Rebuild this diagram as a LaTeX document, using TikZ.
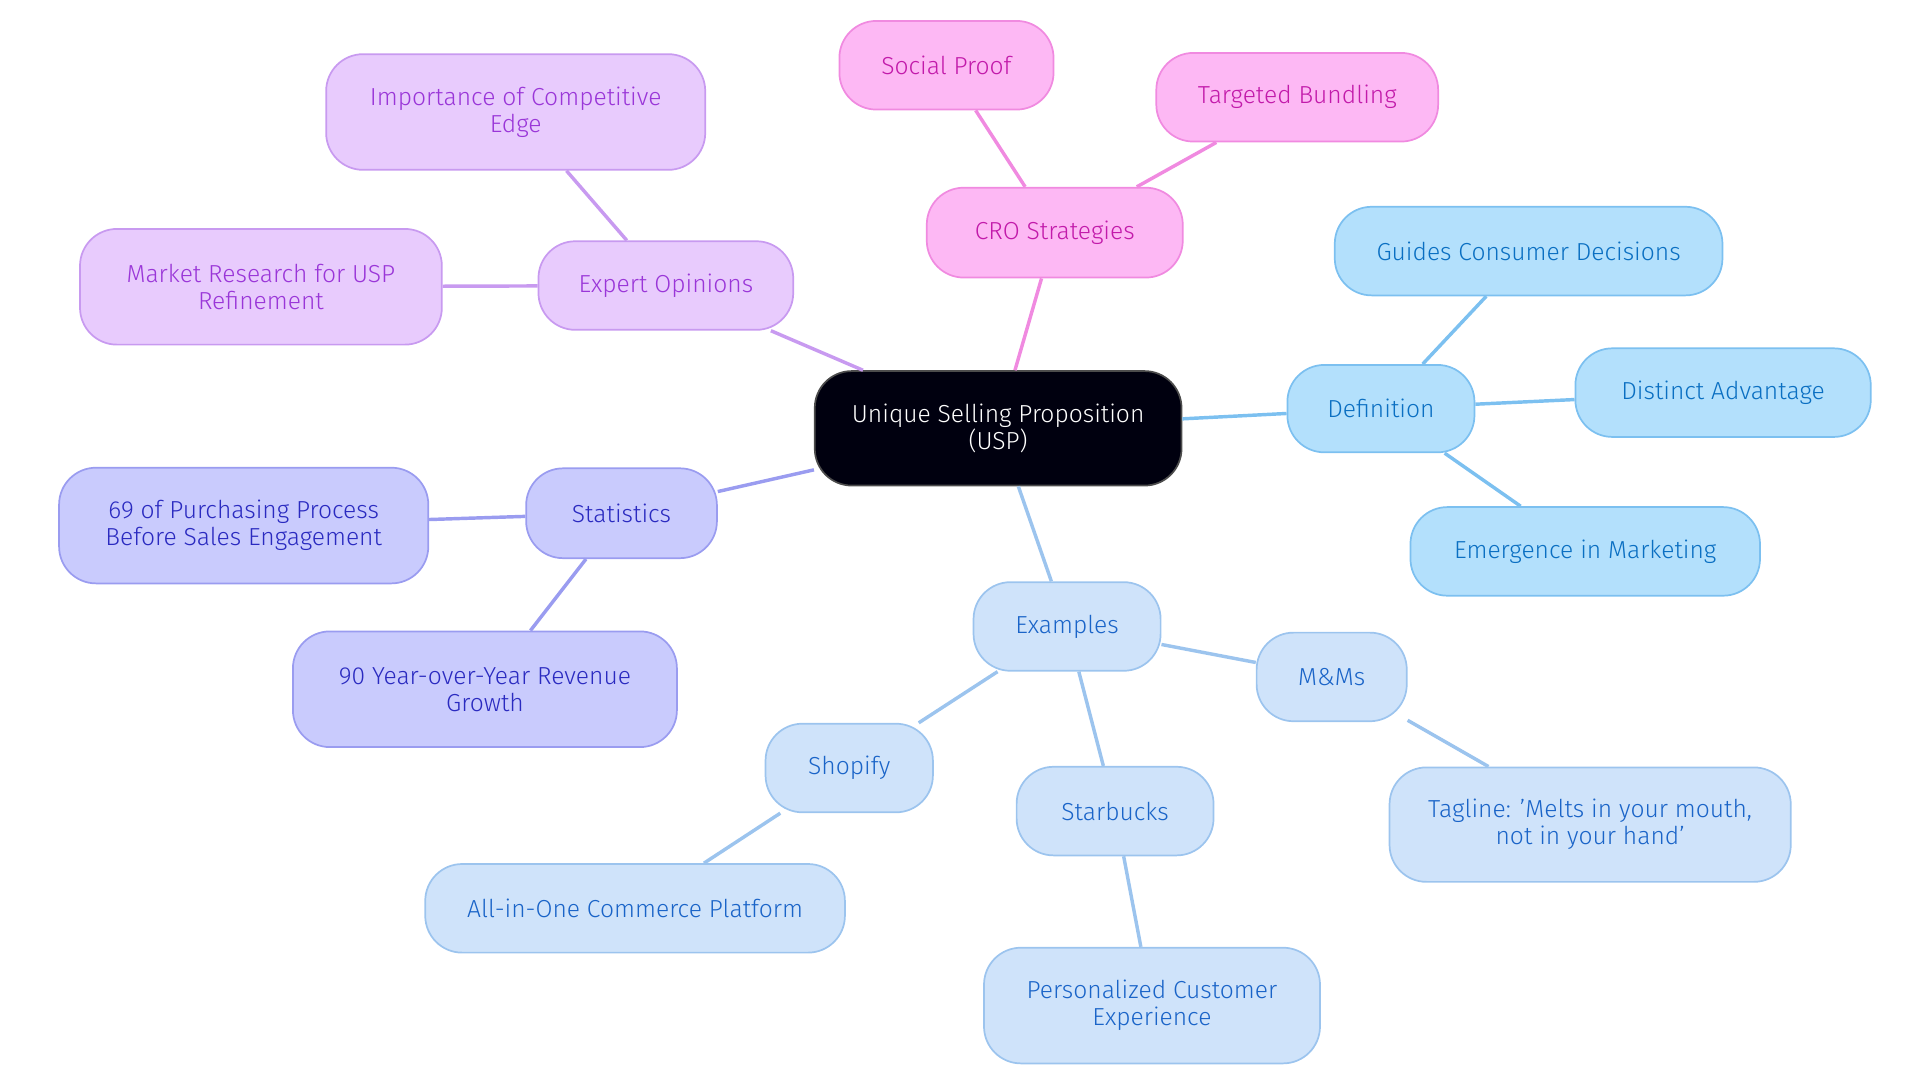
\documentclass[tikz,border=0pt]{standalone}
\usepackage{fontspec}
\setmainfont{Fira Sans}[UprightFont=* Light]
\begin{document}
\begin{tikzpicture}[x=0.5pt,y=-0.5pt,
  nd/.style={draw, line width=0.7pt, rounded corners=15pt, align=center, font=\fontsize{10}{11}\selectfont, inner sep=0pt},
  def/.style={nd, fill=defF, draw=defD, text=defT},
  ex/.style={nd, fill=exF, draw=exD, text=exT},
  st/.style={nd, fill=stF, draw=stD, text=stT},
  op/.style={nd, fill=opF, draw=opD, text=opT},
  cr/.style={nd, fill=crF, draw=crD, text=crT},
  ln/.style={line width=1.4pt}]
\definecolor{defF}{HTML}{B3E0FC}\definecolor{defD}{HTML}{7CC0F0}\definecolor{defT}{HTML}{0A6FC2}
\definecolor{exF}{HTML}{CFE3FA}\definecolor{exD}{HTML}{9CC4EE}\definecolor{exT}{HTML}{1A64C8}
\definecolor{stF}{HTML}{C9CBFD}\definecolor{stD}{HTML}{9A9CF0}\definecolor{stT}{HTML}{2A2AC0}
\definecolor{opF}{HTML}{E8CBFD}\definecolor{opD}{HTML}{C89AF0}\definecolor{opT}{HTML}{9A36D8}
\definecolor{crF}{HTML}{FDB8F4}\definecolor{crD}{HTML}{F08AE0}\definecolor{crT}{HTML}{C21AAA}
\useasboundingbox (0,0) rectangle (1560,880);
\node[nd, fill=black!90!blue!60!black, draw=black!70, text=white, minimum width=149pt, minimum height=46.5pt] (usp) at (811,348) {Unique Selling Proposition\\(USP)};
\node[def, minimum width=76pt, minimum height=35.5pt] (def) at (1122,332) {Definition};
\node[def, minimum width=157.5pt, minimum height=36pt] (gcd) at (1242,204) {Guides Consumer Decisions};
\node[def, minimum width=120pt, minimum height=36pt] (da) at (1400,319) {Distinct Advantage};
\node[def, minimum width=142pt, minimum height=36pt] (em) at (1288,448) {Emergence in Marketing};
\node[ex, minimum width=76pt, minimum height=36pt] (ex) at (867,509) {Examples};
\node[ex, minimum width=61pt, minimum height=36pt] (mm) at (1082,550) {M\&Ms};
\node[ex, minimum width=163pt, minimum height=46.5pt] (tag) at (1292,670) {Tagline: 'Melts in your mouth,\\not in your hand'};
\node[ex, minimum width=80pt, minimum height=36pt] (sb) at (906,659) {Starbucks};
\node[ex, minimum width=136.5pt, minimum height=47pt] (pce) at (936,817) {Personalized Customer\\Experience};
\node[ex, minimum width=68pt, minimum height=36pt] (sh) at (690,624) {Shopify};
\node[ex, minimum width=170.5pt, minimum height=36pt] (aio) at (516,738) {All-in-One Commerce Platform};
\node[st, minimum width=77.5pt, minimum height=36.5pt] (st) at (505,417) {Statistics};
\node[st, minimum width=150pt, minimum height=47pt] (s69) at (198,427) {69 of Purchasing Process\\Before Sales Engagement};
\node[st, minimum width=156pt, minimum height=47pt] (s90) at (394,560) {90 Year-over-Year Revenue\\Growth};
\node[op, minimum width=103.5pt, minimum height=36pt] (eo) at (541,232) {Expert Opinions};
\node[op, minimum width=154pt, minimum height=47pt] (imp) at (419,91) {Importance of Competitive\\Edge};
\node[op, minimum width=147pt, minimum height=47pt] (mr) at (212,233) {Market Research for USP\\Refinement};
\node[cr, minimum width=104pt, minimum height=36.5pt] (cro) at (857,189) {CRO Strategies};
\node[cr, minimum width=87pt, minimum height=36pt] (sp) at (769,53) {Social Proof};
\node[cr, minimum width=114.5pt, minimum height=36pt] (tb) at (1054,79) {Targeted Bundling};
\begin{scope}[on background layer/.style={}]
\end{scope}
\begin{pgfonlayer}{main}\end{pgfonlayer}
\pgfsetlayers{main}
\draw[ln, defD] (usp) -- (def); \draw[ln, defD] (def) -- (gcd); \draw[ln, defD] (def) -- (da); \draw[ln, defD] (def) -- (em);
\draw[ln, exD] (usp) -- (ex); \draw[ln, exD] (ex) -- (mm); \draw[ln, exD] (mm) -- (tag); \draw[ln, exD] (ex) -- (sb); \draw[ln, exD] (sb) -- (pce); \draw[ln, exD] (ex) -- (sh); \draw[ln, exD] (sh) -- (aio);
\draw[ln, stD] (usp) -- (st); \draw[ln, stD] (st) -- (s69); \draw[ln, stD] (st) -- (s90);
\draw[ln, opD] (usp) -- (eo); \draw[ln, opD] (eo) -- (imp); \draw[ln, opD] (eo) -- (mr);
\draw[ln, crD] (usp) -- (cro); \draw[ln, crD] (cro) -- (sp); \draw[ln, crD] (cro) -- (tb);
\end{tikzpicture}
\end{document}
